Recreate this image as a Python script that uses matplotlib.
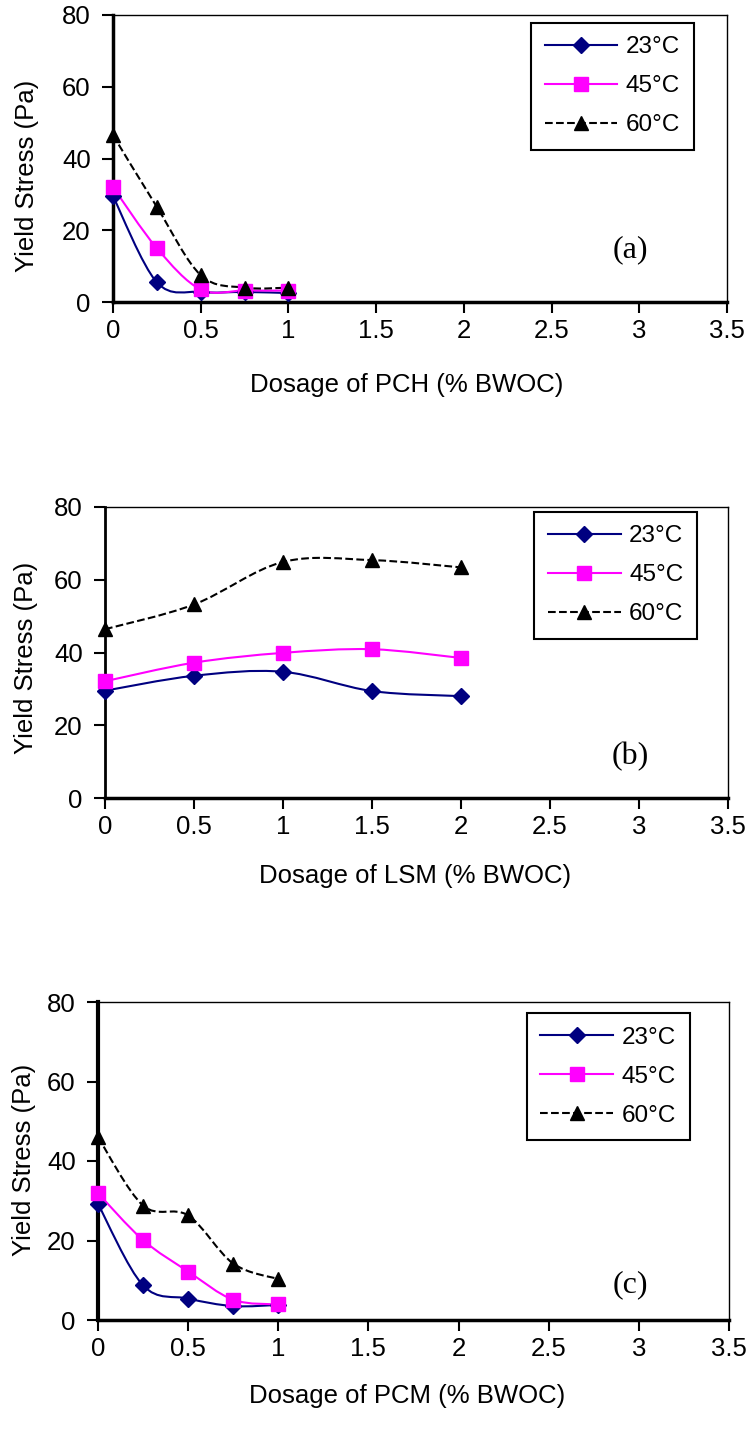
import numpy as np
import matplotlib
matplotlib.use('Agg')
import matplotlib.pyplot as plt
from matplotlib.path import Path
from matplotlib.patches import PathPatch
from matplotlib.lines import Line2D

plt.rcParams['font.family'] = ['Liberation Sans', 'DejaVu Sans']

# dosage (% BWOC)
dose_pch = [0, 0.25, 0.5, 0.75, 1.0]
dose_lsm = [0, 0.5, 1.0, 1.5, 2.0]
dose_pcm = [0, 0.25, 0.5, 0.75, 1.0]

# yield stress (Pa) - (a) PCH
pch_23 = [29.5, 5.5, 2.8, 2.8, 2.5]
pch_45 = [32.0, 15.0, 3.5, 3.2, 3.2]
pch_60 = [46.5, 26.5, 7.5, 4.0, 4.0]

# (b) LSM
lsm_23 = [29.5, 33.6, 34.7, 29.4, 28.0]
lsm_45 = [32.1, 37.2, 39.9, 40.9, 38.5]
lsm_60 = [46.4, 53.2, 64.9, 65.4, 63.4]

# (c) PCM
pcm_23 = [29.2, 8.7, 5.4, 3.5, 3.8]
pcm_45 = [31.9, 20.1, 12.2, 5.1, 3.9]
pcm_60 = [46.0, 28.8, 26.3, 14.2, 10.3]

temps = ['23°C', '45°C', '60°C']
x_ticks = [0, 0.5, 1, 1.5, 2, 2.5, 3, 3.5]
y_ticks = [0, 20, 40, 60, 80]

styles = [
    dict(color='#000080', ls='-', marker='D', ms=8.5),
    dict(color='#FF00FF', ls='-', marker='s', ms=10),
    dict(color='black', ls='--', marker='^', ms=10.5),
]


def smooth_line(ax, x, y, color, ls):
    # Excel-like smoothed line (Catmull-Rom as cubic bezier)
    pts = np.column_stack([x, y]).astype(float)
    n = len(pts)
    verts = [pts[0]]
    codes = [Path.MOVETO]
    for i in range(n - 1):
        p0 = pts[max(i - 1, 0)]
        p1 = pts[i]
        p2 = pts[i + 1]
        p3 = pts[min(i + 2, n - 1)]
        verts += [p1 + (p2 - p0) / 6, p2 - (p3 - p1) / 6, p2]
        codes += [Path.CURVE4] * 3
    patch = PathPatch(Path(verts, codes), fill=False, edgecolor=color,
                      linestyle=ls, linewidth=1.5, zorder=2)
    ax.add_patch(patch)


def draw_panel(rect, xs, series, xlabel, tag, ylab_pos, xlab_pos, leg_pos, tag_pos, left_lw):
    ax = fig.add_axes(rect)
    for ys, st in zip(series, styles):
        smooth_line(ax, xs, ys, st['color'], st['ls'])
        ax.plot(xs, ys, ls='none', marker=st['marker'], ms=st['ms'],
                color=st['color'], zorder=3, clip_on=False)
    ax.set_xlim(0, 3.5)
    ax.set_ylim(0, 80)
    ax.set_xticks(x_ticks)
    ax.set_xticklabels([f'{t:g}' for t in x_ticks])
    ax.set_yticks(y_ticks)
    ax.tick_params(direction='out', length=8, width=1.5, labelsize=18.5)
    ax.tick_params(axis='x', pad=4)
    ax.tick_params(axis='y', pad=8)
    for s in ['top', 'right']:
        ax.spines[s].set_linewidth(1.0)
    ax.spines['bottom'].set_linewidth(2.5)
    ax.spines['left'].set_linewidth(left_lw)

    ax.set_ylabel('Yield Stress (Pa)', fontsize=18.5)
    ax.yaxis.set_label_coords(*ylab_pos)
    ax.set_xlabel(xlabel, fontsize=18.5)
    ax.xaxis.set_label_coords(*xlab_pos)

    handles = [Line2D([], [], color=st['color'], ls=st['ls'], lw=1.5,
                      marker=st['marker'], ms=st['ms']) for st in styles]
    leg = ax.legend(handles, temps, loc='upper left', bbox_to_anchor=leg_pos,
                    borderaxespad=0, fontsize=17.5, fancybox=False,
                    framealpha=1, edgecolor='black', handlelength=3.0,
                    handletextpad=0.35, labelspacing=0.7, borderpad=0.55)
    leg.get_frame().set_linewidth(1.5)

    ax.text(tag_pos[0], tag_pos[1], tag, transform=ax.transAxes,
            family='Liberation Serif', fontsize=23, ha='center', va='center')
    return ax


W, H = 750, 1429
fig = plt.figure(figsize=(W / 100, H / 100), dpi=100)


def rect_px(left, right, top, bottom):
    return [left / W, 1 - bottom / H, (right - left) / W, (bottom - top) / H]


draw_panel(rect_px(113, 727, 15, 302), dose_pch, [pch_23, pch_45, pch_60],
           'Dosage of PCH (% BWOC)', '(a)',
           (-0.12, 0.44), (0.479, -0.247), (0.681, 0.972), (0.842, 0.181), 2.5)
draw_panel(rect_px(105, 728, 507, 798), dose_lsm, [lsm_23, lsm_45, lsm_60],
           'Dosage of LSM (% BWOC)', '(b)',
           (-0.108, 0.48), (0.498, -0.227), (0.689, 0.983), (0.843, 0.141), 2.0)
draw_panel(rect_px(98, 729, 1002, 1320), dose_pcm, [pcm_23, pcm_45, pcm_60],
           'Dosage of PCM (% BWOC)', '(c)',
           (-0.098, 0.503), (0.49, -0.201), (0.680, 0.965), (0.844, 0.11), 3.0)

fig.savefig('out.png', dpi=100, facecolor='white')
